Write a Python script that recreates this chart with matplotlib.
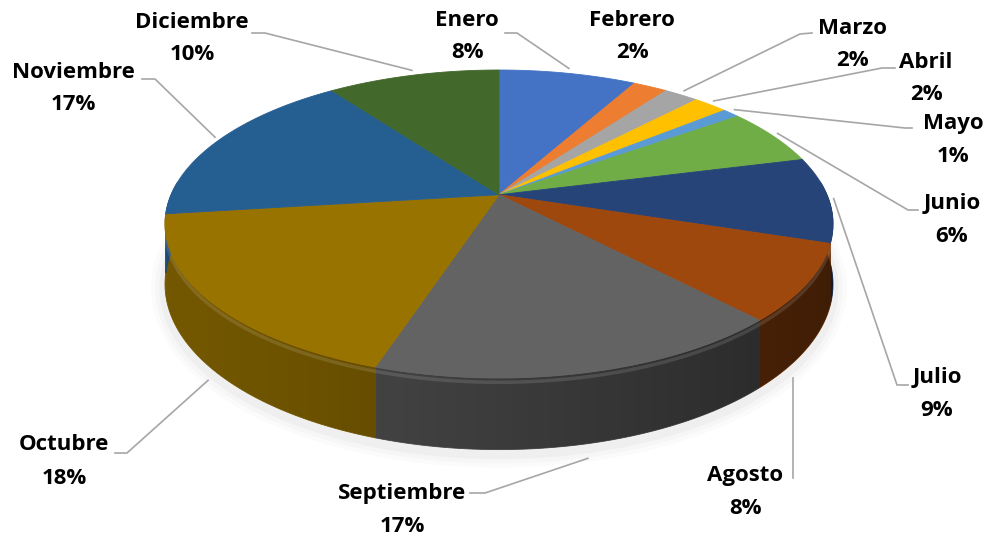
import numpy as np
import matplotlib.pyplot as plt
import matplotlib.colors as mcolors
from matplotlib.patches import Polygon

# data
months = ["Enero", "Febrero", "Marzo", "Abril", "Mayo", "Junio", "Julio",
          "Agosto", "Septiembre", "Octubre", "Noviembre", "Diciembre"]
values = [8, 2, 2, 2, 1, 6, 9, 8, 17, 18, 17, 10]
colors = ["#4472C4", "#ED7D31", "#A5A5A5", "#FFC000", "#5B9BD5", "#70AD47",
          "#264478", "#9E480E", "#636363", "#997300", "#255E91", "#43682B"]

# label layout (pixel coords): text centre, then leader points near text
label_pos = {
    "Enero": (467, 20), "Febrero": (632, 20), "Marzo": (852, 28),
    "Abril": (926, 62), "Mayo": (953, 123), "Junio": (952, 203),
    "Julio": (937, 378), "Agosto": (745, 475), "Septiembre": (402, 493),
    "Octubre": (64, 445), "Noviembre": (73, 72), "Diciembre": (192, 22),
}
leader = {
    "Enero": [(517, 33), (505, 33)],
    "Marzo": [(800, 34), (812, 33)],
    "Abril": [(882, 68), (895, 68)],
    "Mayo": [(905, 128), (912, 128)],
    "Junio": [(908, 210), (918, 210)],
    "Julio": [(897, 385), (908, 385)],
    "Agosto": [],
    "Septiembre": [(485, 493), (470, 493)],
    "Octubre": [(127, 453), (115, 453)],
    "Noviembre": [(155, 79), (142, 79)],
    "Diciembre": [(265, 33), (252, 33)],
}
anchor_frac = {"Agosto": 0.72}

# pie geometry in pixels (simple perspective tilt)
cx, cy, a, b, p, h0 = 499, 224, 334, 154, -0.19, 58


def rim(theta, down=0.0, grow=0.0):
    t = np.radians(theta)
    u, v = np.sin(t), -np.cos(t)
    w = 1 + p * v
    X = u * np.sqrt(1 - p * p) / w
    Y = (v + p) / w
    x = cx + (a + grow) * X
    y = cy + (b + grow) * Y + down * h0 / w
    return x, y


fig = plt.figure(figsize=(9.85, 5.37), dpi=100)
ax = fig.add_axes([0, 0, 1, 1])
ax.set_xlim(0, 985)
ax.set_ylim(537, 0)
ax.axis("off")

# soft shadow under the pie
th = np.linspace(0, 360, 361)
sx, sy = rim(th, down=1.0)
for lw, al in [(20, 0.03), (14, 0.04), (8, 0.05)]:
    ax.plot(sx, sy + 4, color="#808080", lw=lw, alpha=al, zorder=1,
            solid_capstyle="round")

total = sum(values)
bounds = np.concatenate([[0], np.cumsum(values)]) / total * 360

# side wall, one polygon per slice
for i in range(len(values)):
    t0, t1 = max(bounds[i], 85), min(bounds[i + 1], 275)
    if t1 <= t0:
        continue
    ts = np.linspace(t0, t1, 60)
    xt, yt = rim(ts)
    xb, yb = rim(ts[::-1], down=1)
    pts = list(zip(xt, yt)) + list(zip(xb, yb))
    c = np.array(mcolors.to_rgb(colors[i])) * 0.8
    ax.add_patch(Polygon(pts, closed=True, fc=c, ec=c, lw=0.6, zorder=2))

# darkening gradient across the side (lighter left, darker right)
ts = np.linspace(85, 275, 200)
xt, yt = rim(ts)
xb, yb = rim(ts[::-1], down=1)
side = Polygon(list(zip(xt, yt)) + list(zip(xb, yb)), closed=True,
               fc="none", ec="none", transform=ax.transData)
ax.add_patch(side)
gx = np.linspace(0, 1, 256)
alpha = 0.05 + 0.45 * gx ** 1.2
grad = np.zeros((2, 256, 4))
grad[..., 3] = alpha
img = ax.imshow(grad, extent=(cx - a - 2, cx + a + 2, 470, 150),
                aspect="auto", zorder=2.2, interpolation="bilinear")
img.set_clip_path(side)
ax.set_xlim(0, 985)
ax.set_ylim(537, 0)

# bevel highlight along the front rim
hx, hy = rim(np.linspace(100, 260, 200), down=0.06)
ax.plot(hx, hy, color="white", lw=2.5, alpha=0.12, zorder=2.5)

# top surface
for i in range(len(values)):
    ts = np.linspace(bounds[i], bounds[i + 1], max(3, int(values[i] * 3)))
    xs, ys = rim(ts)
    pts = [(cx, cy + b * p)] + list(zip(xs, ys))
    ax.add_patch(Polygon(pts, closed=True, fc=colors[i], ec=colors[i],
                         lw=0.6, zorder=3))

# labels and leader lines
for i, m in enumerate(months):
    x, y = label_pos[m]
    ax.text(x, y, m, ha="center", va="center", fontsize=16,
            fontweight="bold", family="Open Sans", color="black", zorder=6)
    ax.text(x, y + 33, f"{values[i]}%", ha="center", va="center",
            fontsize=16, fontweight="bold", family="Open Sans",
            color="black", zorder=6)
    if m not in leader:
        continue
    f = anchor_frac.get(m, 0.5)
    mid = bounds[i] + f * (bounds[i + 1] - bounds[i])
    if 115 < mid < 245:
        ax0, ay0 = rim(mid, down=1.15, grow=4)
    else:
        ax0, ay0 = rim(mid, grow=5)
    pts = leader[m] if leader[m] else [(ax0, y + 3)]
    px, py = zip(*([(ax0, ay0)] + pts))
    ax.plot(px, py, color="#A6A6A6", lw=1.2, zorder=5)

fig.savefig("out.png", dpi=100)
